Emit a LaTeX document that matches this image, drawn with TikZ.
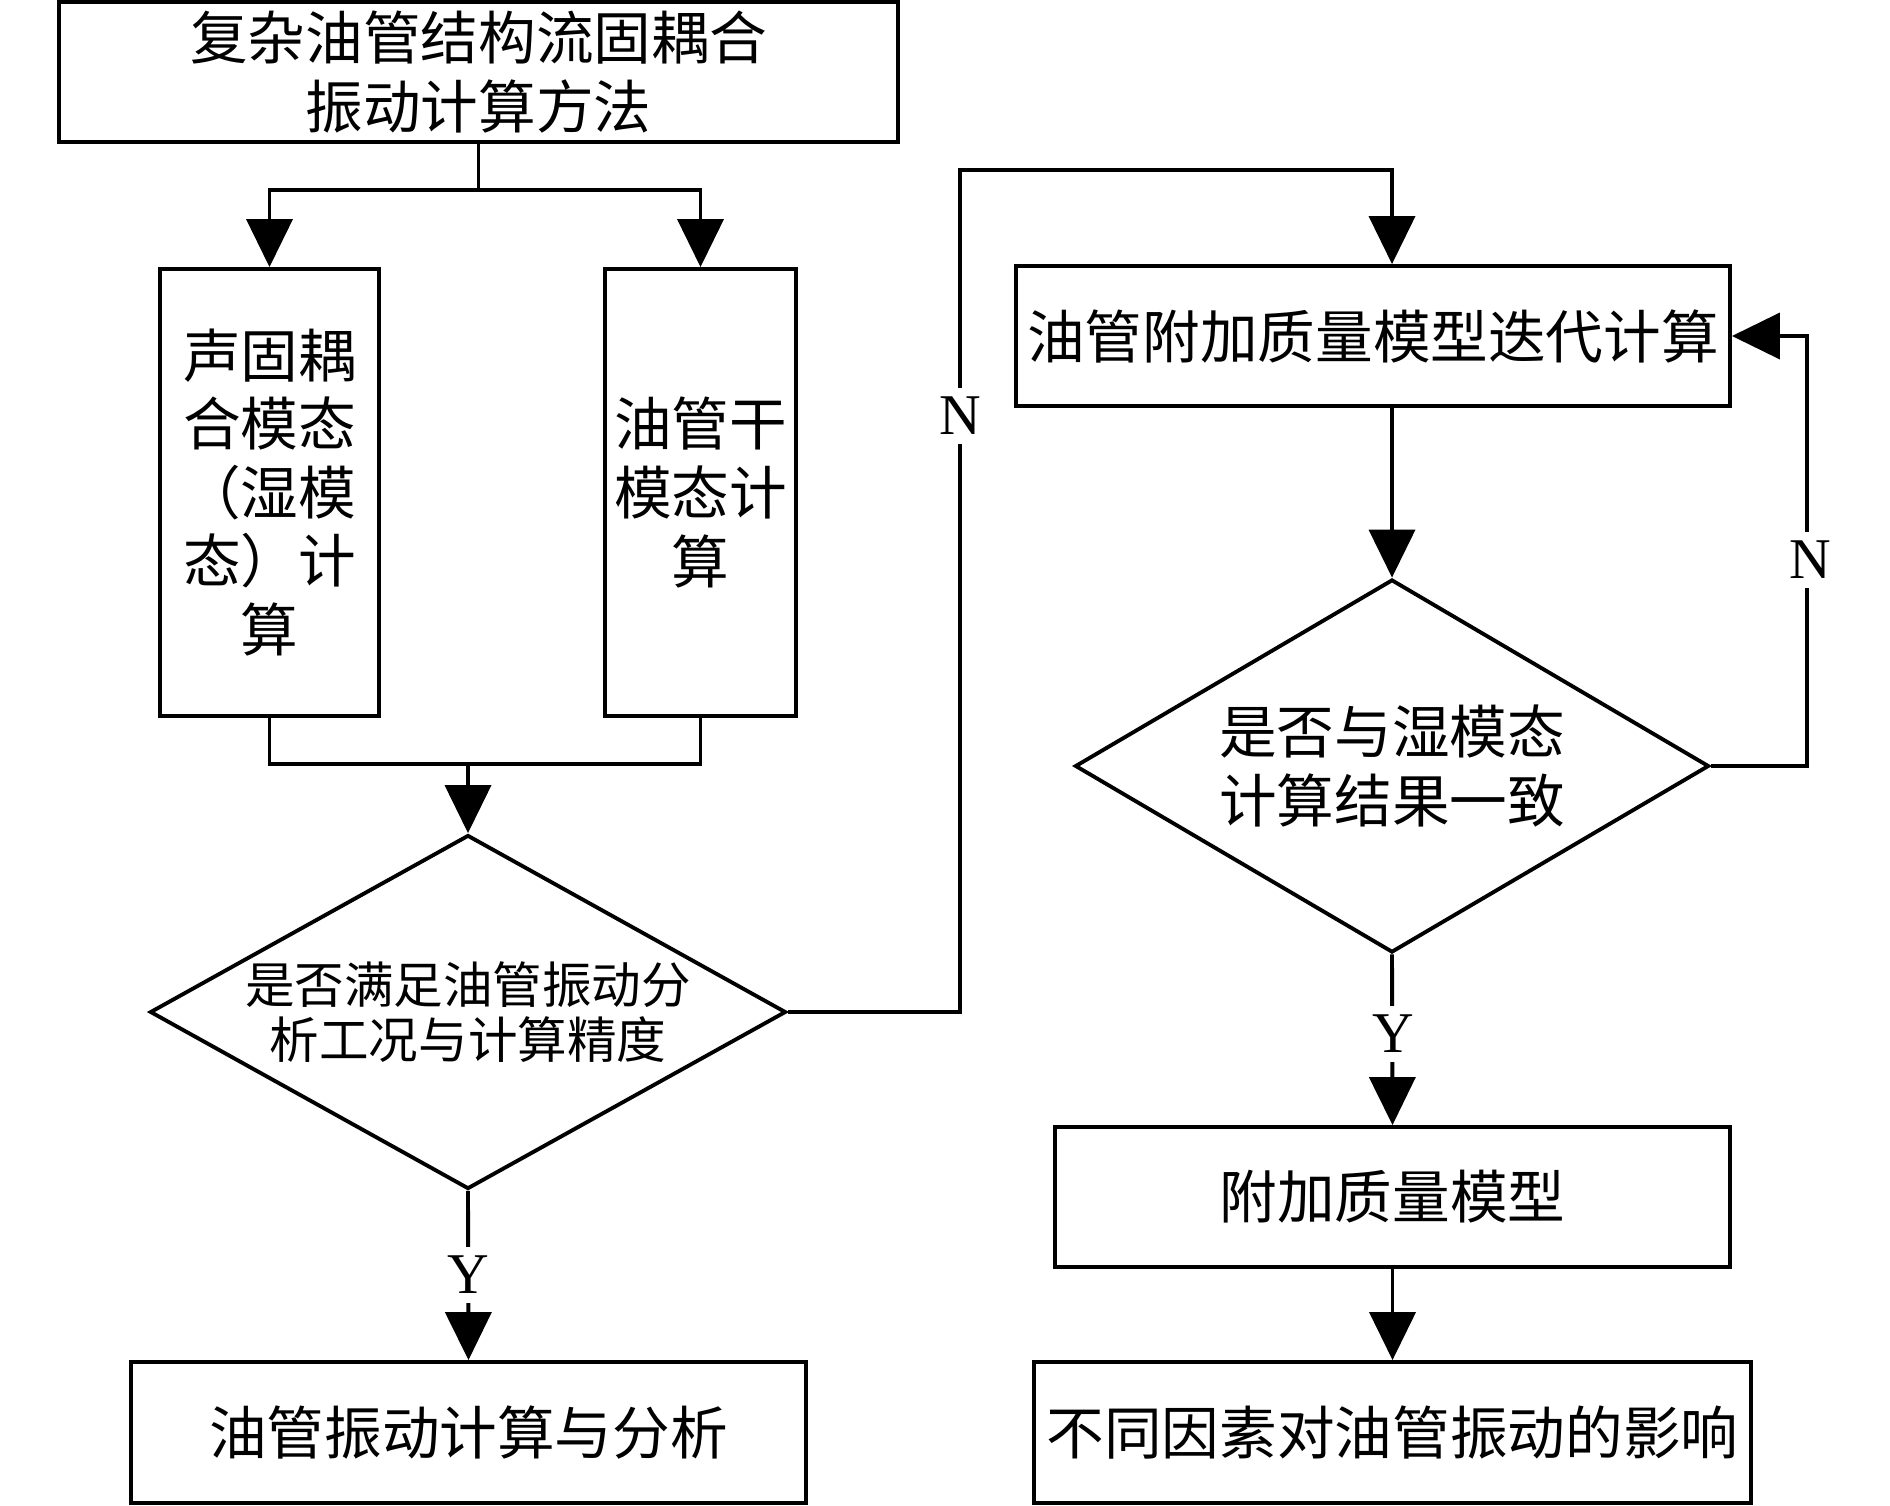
\documentclass[tikz,border=0pt]{standalone}
\usepackage{fontspec}
\setmainfont{Liberation Serif}
\newfontfamily\cjk{Noto Sans CJK SC}
\usetikzlibrary{arrows.meta, shapes.geometric}

\tikzset{
  box/.style={draw, line width=1.1pt, inner sep=0pt, align=center, font=\cjk\fontsize{16.4}{19.5}\selectfont},
  decide/.style={draw, diamond, line width=1.1pt, inner sep=0pt, align=center},
  yn/.style={fill=white, inner sep=2.5pt, font=\fontsize{16.4}{19.5}\selectfont},
  ln/.style={line width=1.1pt},
  arr/.style={line width=1.1pt, -{Triangle[length=4.8mm, width=4.6mm]}},
}

\begin{document}
\begin{tikzpicture}[x=0.1mm, y=-0.1mm]
        \useasboundingbox (0,0) rectangle (1890,1505);

        % left column
        \node[box, minimum width=83.9mm, minimum height=14mm] (top) at (478.5,72) {复杂油管结构流固耦合\\振动计算方法};
        \node[box, minimum width=21.9mm, minimum height=44.7mm] (wet) at (269.5,492.5) {声固耦\\合模态\\（湿模\\态）计\\算};
        \node[box, minimum width=19.1mm, minimum height=44.7mm] (dry) at (700.5,492.5) {油管干\\模态计\\算};
        \node[decide, aspect=1.8, minimum width=63.6mm, minimum height=35.4mm, font=\cjk\fontsize{14.1}{15.6}\selectfont] (check) at (468,1012) {是否满足油管振动分\\析工况与计算精度};
        \node[box, minimum width=67.5mm, minimum height=14.1mm] (anal) at (468.5,1432.5) {油管振动计算与分析};

        % right column
        \node[box, minimum width=71.4mm, minimum height=14mm] (iter) at (1373,336) {油管附加质量模型迭代计算};
        \node[decide, aspect=1.7, minimum width=63.4mm, minimum height=37.3mm, font=\cjk\fontsize{16.4}{19.9}\selectfont] (same) at (1392,766) {是否与湿模态\\计算结果一致};
        \node[box, minimum width=67.5mm, minimum height=14mm] (mass) at (1392.5,1197) {附加质量模型};
        \node[box, minimum width=71.7mm, minimum height=14.1mm] (fact) at (1392.5,1432.5) {不同因素对油管振动的影响};

        \coordinate (split) at (478.5,190);
        \coordinate (join) at (468,764);
        \coordinate (upN) at (960,170);
        \coordinate (backN) at (1807,336);

        % connectors
        \draw[ln] (top.south) -- (split);
        \draw[arr] (split) -| (wet.north);
        \draw[arr] (split) -| (dry.north);
        \draw[ln] (wet.south) |- (join);
        \draw[ln] (dry.south) |- (join);
        \draw[arr] (join) -- (check.north);
        \draw[arr] (check.south) -- (anal.north);
        \draw[arr] (check.east) -| (upN) -| (iter.north -| same.north);
        \draw[arr] (iter.south -| same.north) -- (same.north);
        \draw[arr] (same.east) -| (backN) -- (iter.east);
        \draw[arr] (same.south) -- (mass.north);
        \draw[arr] (mass.south) -- (fact.north);

        % labels
        \node[yn] (y1) at (468,1275) {Y};
        \node[yn] (y2) at (1393,1034) {Y};
        \node[yn] (n1) at (960,416) {N};
        \node[yn] (n2) at (1810,560) {N};
    \end{tikzpicture}
\end{document}
